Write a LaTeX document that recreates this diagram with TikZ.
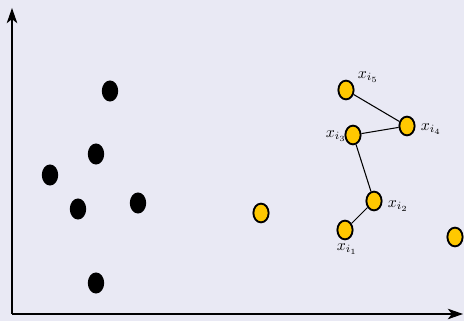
\documentclass[tikz,border=0pt]{standalone}
\usetikzlibrary{arrows.meta,shapes.geometric}
\definecolor{bgcol}{RGB}{233,233,244}
\definecolor{dotyellow}{RGB}{255,200,0}
\begin{document}
\begin{tikzpicture}[x=0.3mm,y=0.3mm]
    \tikzset{
      black dot/.style={
        ellipse, fill=black, inner sep=0pt,
        minimum width=14, minimum height=18,
     },
      yellow dot/.style={
        ellipse, fill=dotyellow, draw=black, line width=1.6pt, inner sep=0pt,
        minimum width=13, minimum height=16,
     },
      axis/.style={line width=0.9pt, -{Stealth[length=13pt,width=9pt,inset=3.5pt]}},
      link/.style={line width=0.9pt},
      tag/.style={scale=1.35, inner sep=0pt},
    }
    \fill[bgcol] (0,0) rectangle (464,321);
    \useasboundingbox (0,0) rectangle (464,321);
    % axes
    \coordinate (o) at (12,7);
    \coordinate (xend) at (463,7);
    \coordinate (yend) at (12,313);
    \draw[axis] (o) -- (xend);
    \draw[axis] (o) -- (yend);
    % black points
    \node[black dot] (b1) at (110,230) {};
    \node[black dot] (b2) at (96,167) {};
    \node[black dot] (b3) at (50,146) {};
    \node[black dot] (b4) at (78,112) {};
    \node[black dot] (b5) at (138,118) {};
    \node[black dot] (b6) at (96,38) {};
    % yellow points
    \node[yellow dot] (y1) at (261,108) {};
    \node[yellow dot] (y2) at (455,84) {};
    \node[yellow dot] (xi1) at (345,91) {};
    \node[yellow dot] (xi2) at (374,120) {};
    \node[yellow dot] (xi3) at (353,186) {};
    \node[yellow dot] (xi4) at (407,195) {};
    \node[yellow dot] (xi5) at (346,231) {};
    %
    \draw[link] (xi1) -- (xi2) -- (xi3) -- (xi4) -- (xi5);
    % labels
    \node[tag] (l1) at (347,72) {$x_{i_1}$};
    \node[tag] (l2) at (398,115) {$x_{i_2}$};
    \node[tag] (l3) at (336,185) {$x_{i_3}$};
    \node[tag] (l4) at (431,192) {$x_{i_4}$};
    \node[tag] (l5) at (368,244) {$x_{i_5}$};
\end{tikzpicture}
\end{document}
